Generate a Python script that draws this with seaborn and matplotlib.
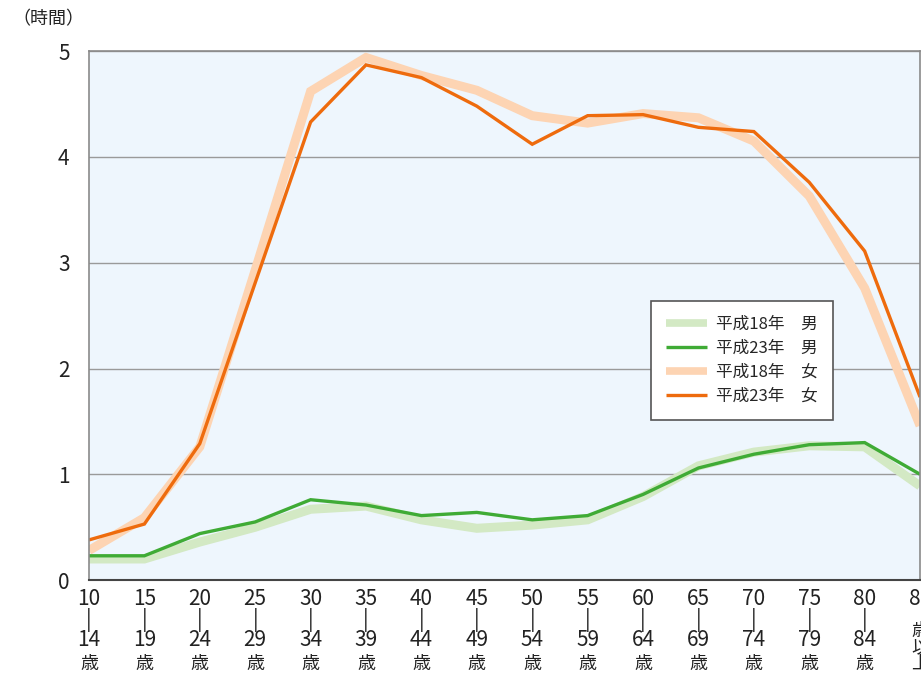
import matplotlib
matplotlib.use("Agg")
import matplotlib.pyplot as plt
import matplotlib.transforms as mtransforms
import pandas as pd
import seaborn as sns

# age groups (start of each 5-year band)
ages = ["10", "15", "20", "25", "30", "35", "40", "45", "50", "55",
        "60", "65", "70", "75", "80", "85"]
age_ends = ["14", "19", "24", "29", "34", "39", "44", "49", "54", "59",
            "64", "69", "74", "79", "84", ""]

# hours per day
male_h18 = [0.20, 0.20, 0.36, 0.50, 0.67, 0.70, 0.57, 0.49, 0.52, 0.57,
            0.79, 1.08, 1.21, 1.27, 1.26, 0.89]
male_h23 = [0.23, 0.23, 0.44, 0.55, 0.76, 0.71, 0.61, 0.64, 0.57, 0.61,
            0.81, 1.06, 1.19, 1.28, 1.30, 1.00]
female_h18 = [0.28, 0.59, 1.26, 2.93, 4.62, 4.94, 4.77, 4.63, 4.39, 4.32,
              4.41, 4.37, 4.15, 3.63, 2.76, 1.46]
female_h23 = [0.38, 0.53, 1.29, 2.81, 4.33, 4.87, 4.75, 4.48, 4.12, 4.39,
              4.40, 4.28, 4.24, 3.76, 3.11, 1.73]

series_names = ["平成18年　男", "平成23年　男", "平成18年　女", "平成23年　女"]
series_vals = [male_h18, male_h23, female_h18, female_h23]
colors = ["#d3e9c4", "#3fab35", "#fdd4b3", "#ee6b0d"]
widths = [6.5, 2.4, 6.5, 2.4]

sns.set_theme(style="white")
plt.rcParams["font.family"] = ["Noto Sans CJK JP", "DejaVu Sans"]

fig = plt.figure(figsize=(9.21, 6.73), dpi=100)
ax = fig.add_axes([0.0966, 0.138, 0.9024, 0.786])
ax.set_facecolor("#eef6fd")

# draw thick H18 lines first, then H23 on top
order = [0, 2, 1, 3]
for i in order:
    df = pd.DataFrame({"x": range(len(ages)), "y": series_vals[i]})
    sns.lineplot(data=df, x="x", y="y", color=colors[i], linewidth=widths[i],
                 ax=ax, solid_capstyle="butt", solid_joinstyle="miter",
                 label=series_names[i])

ax.set_xlim(0, len(ages) - 1)
ax.set_ylim(0, 5)
ax.set_yticks([0, 1, 2, 3, 4, 5])
ax.set_yticklabels(["0", "1", "2", "3", "4", "5"], fontsize=15, color="#222222")
ax.grid(axis="y", color="#9a9a9a", linewidth=1)
ax.set_axisbelow(True)

labels = []
for a, e in zip(ages, age_ends):
    labels.append(f"{a}\n|\n{e}" if e else f"{a}")
ax.set_xticks(range(len(ages)))
ax.set_xticklabels(labels, fontsize=15, color="#222222", linespacing=0.85)
ax.tick_params(axis="x", direction="in", length=8, width=1, color="#bbbbbb", pad=6)
ax.tick_params(axis="y", length=0, pad=14)
ax.set_xlabel("")
ax.set_ylabel("")

# "歳" under each tick label
trans = mtransforms.blended_transform_factory(ax.transData, fig.transFigure)
for i, e in enumerate(age_ends):
    if e:
        ax.text(i, 0.0, "歳", transform=trans, ha="center", va="bottom",
                fontsize=13, color="#222222", clip_on=False)
    else:
        ax.text(i, 0.0, "歳\n以\n上", transform=trans, ha="center", va="bottom",
                fontsize=13, color="#222222", linespacing=0.9, clip_on=False)

for side in ["left", "top", "right"]:
    ax.spines[side].set_color("#8a8a8a")
    ax.spines[side].set_linewidth(1.2)
ax.spines["bottom"].set_color("#444444")
ax.spines["bottom"].set_linewidth(1.5)

h, l = ax.get_legend_handles_labels()
idx = [l.index(n) for n in series_names]
leg = ax.legend([h[i] for i in idx], [l[i] for i in idx],
                loc="upper left", bbox_to_anchor=(0.666, 0.544),
                fontsize=12, frameon=True, fancybox=False, framealpha=1,
                edgecolor="#555555", handlelength=2.5, borderpad=0.9,
                labelspacing=0.42, handletextpad=0.5)
leg.get_frame().set_linewidth(1.2)
for line, w in zip(leg.get_lines(), [5.5, 2.4, 5.5, 2.4]):
    line.set_linewidth(w)

fig.text(0.014, 0.972, "（時間）", fontsize=13, color="#222222", ha="left", va="center")

fig.savefig("out.png", dpi=100)
